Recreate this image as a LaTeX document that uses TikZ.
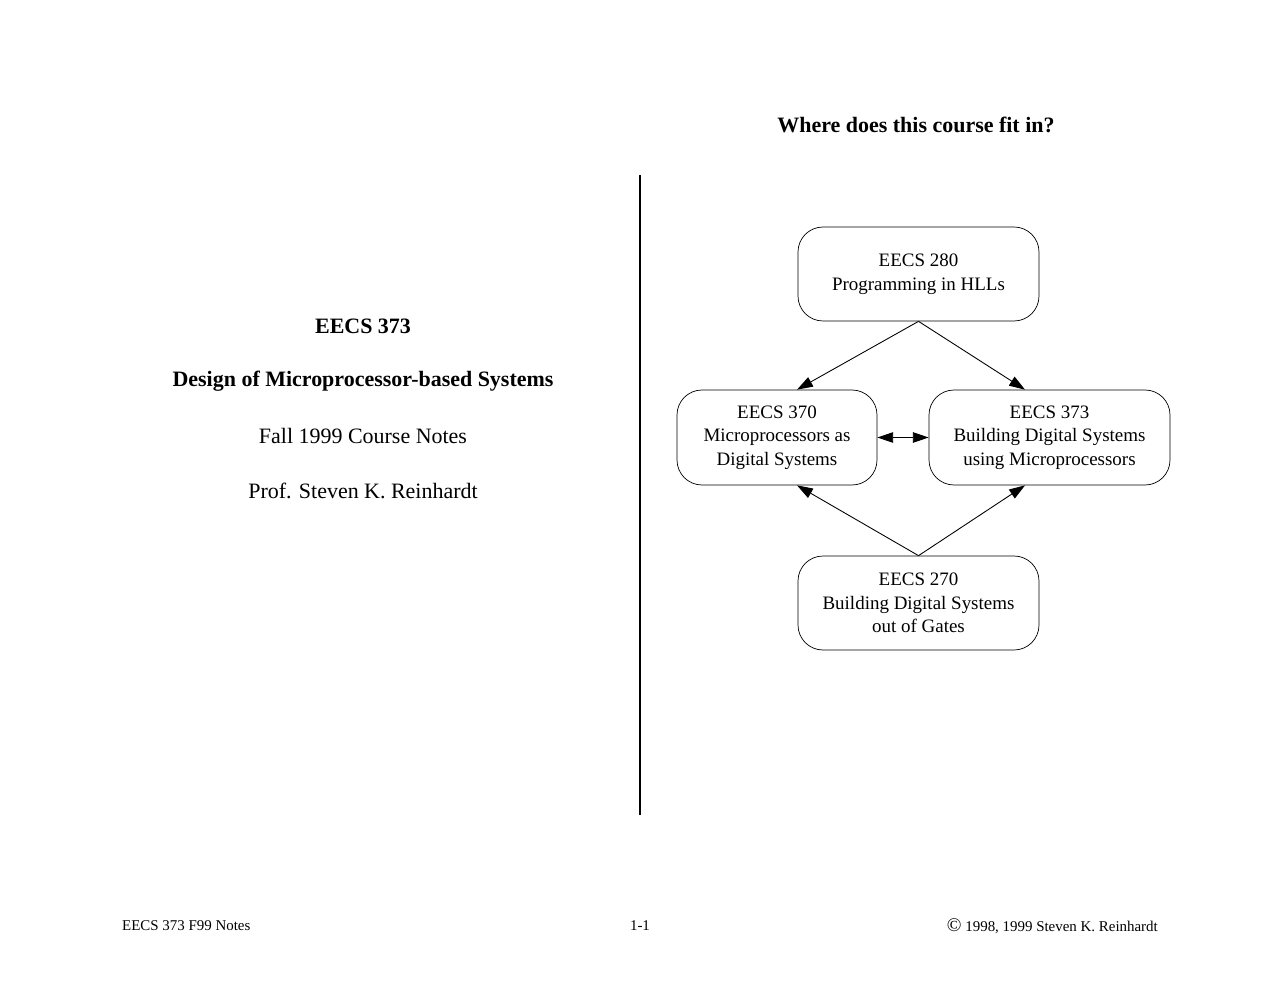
\documentclass[tikz,border=0pt]{standalone}
\usepackage{fontspec}
\setmainfont{Liberation Serif}
\usetikzlibrary{arrows.meta}
\begin{document}
\begin{tikzpicture}[x=0.02cm,y=-0.02cm,
  box/.style={draw,rounded corners=25*0.02cm,align=center,font=\fontsize{10.8}{13.5}\selectfont,inner sep=0pt},
  arr/.style={-{Triangle[length=9pt,width=6pt]},line width=0.5pt},
  txt/.style={font=\fontsize{12.5}{15}\selectfont}]
\useasboundingbox (0,0) rectangle (1280,989);
\node[txt,font=\bfseries\fontsize{12.5}{15}\selectfont] (q) at (916,125) {Where does this course fit in?};
\node[txt,font=\bfseries\fontsize{12.5}{15}\selectfont] (t1) at (363,326) {EECS 373};
\node[txt,font=\bfseries\fontsize{12.5}{15}\selectfont] (t2) at (363,381) {Design of Microprocessor-based Systems};
\node[txt] (t3) at (363,436) {Fall 1999 Course Notes};
\node[txt] (t4) at (363,491) {Prof. Steven K. Reinhardt};
\coordinate (vt) at (640,175); \coordinate (vb) at (640,815);
\draw[line width=0.6pt] (vt) -- (vb);
\node[box,minimum width=241*0.02cm,minimum height=94*0.02cm] (a) at (918.5,274) {EECS 280\\Programming in HLLs};
\node[box,minimum width=200*0.02cm,minimum height=95*0.02cm] (b) at (777,437.5) {EECS 370\\Microprocessors as\\Digital Systems};
\node[box,minimum width=241*0.02cm,minimum height=95*0.02cm] (c) at (1049.5,437.5) {EECS 373\\Building Digital Systems\\using Microprocessors};
\node[box,minimum width=241*0.02cm,minimum height=94*0.02cm] (d) at (918.5,603) {EECS 270\\Building Digital Systems\\out of Gates};
\draw[arr] (a.south) -- (b.north -| 797,0);
\draw[arr] (a.south) -- (c.north -| 1025,0);
\draw[arr] (d.north) -- (b.south -| 797,0);
\draw[arr] (d.north) -- (c.south -| 1025,0);
\draw[arr,{Triangle[length=9pt,width=6pt]}-{Triangle[length=9pt,width=6pt]}] (b.east) -- (c.west);
\node[font=\fontsize{8.5}{10}\selectfont,anchor=west] (f1) at (116,926) {EECS 373 F99 Notes};
\node[font=\fontsize{8.5}{10}\selectfont] (f2) at (640,926) {1-1};
\node[font=\fontsize{8.5}{10}\selectfont,anchor=east] (f3) at (1164,926) {{\fontsize{11}{12}\selectfont ©} 1998, 1999 Steven K. Reinhardt};
\end{tikzpicture}
\end{document}
